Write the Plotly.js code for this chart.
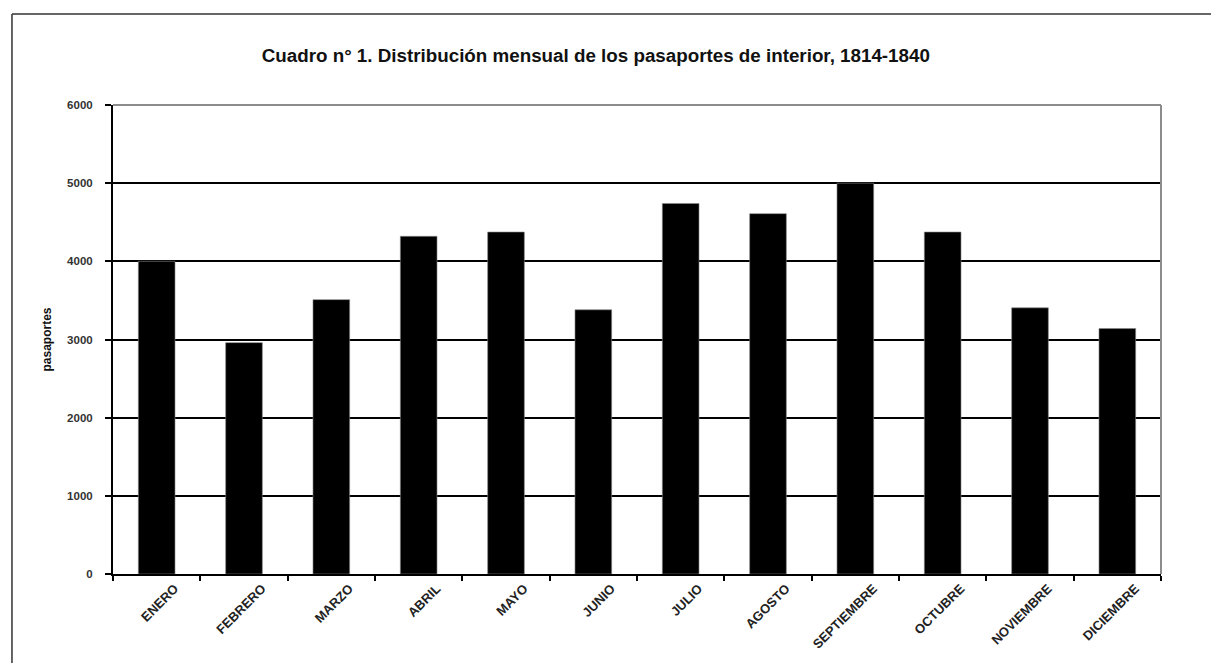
<!DOCTYPE html>
<html>
<head>
<meta charset="utf-8">
<script src="https://cdn.plot.ly/plotly-3.0.1.min.js"></script>
<style>
html, body { margin: 0; padding: 0; background: #ffffff; }
#chart { width: 1211px; height: 663px; }
</style>
</head>
<body>
<div id="chart"></div>
<script>
const months = ["ENERO", "FEBRERO", "MARZO", "ABRIL", "MAYO", "JUNIO", "JULIO", "AGOSTO", "SEPTIEMBRE", "OCTUBRE", "NOVIEMBRE", "DICIEMBRE"];
const pasaportes = [4000, 2960, 3510, 4320, 4375, 3380, 4740, 4610, 5000, 4375, 3405, 3140];
const yTicks = [0, 1000, 2000, 3000, 4000, 5000, 6000];
const chartTitle = "Cuadro n° 1. Distribución mensual de los pasaportes de interior, 1814-1840";
const yTitle = "pasaportes";

const FONT = "Liberation Sans, Arial, sans-serif";

const trace = {
  type: "bar",
  x: months,
  y: pasaportes,
  marker: { color: "#000000", line: { color: "#888888", width: 0.6 } },
  hoverinfo: "x+y"
};

const layout = {
  width: 1211,
  height: 663,
  paper_bgcolor: "#ffffff",
  plot_bgcolor: "#ffffff",
  margin: { l: 113, r: 50, t: 105, b: 89 },
  showlegend: false,
  bargap: 0.58,
  title: {
    text: "<b>" + chartTitle + "</b>",
    font: { family: FONT, size: 18.8, color: "#111111" },
    x: 0.492, xanchor: "center",
    y: 0.917, yanchor: "middle"
  },
  xaxis: {
    type: "category",
    tickangle: -45,
    tickvals: months,
    ticktext: months.map(m => "<b>" + m + "</b>"),
    tickfont: { family: FONT, size: 13, color: "#222222" },
    showline: true, linecolor: "#000000", linewidth: 2,
    ticks: "outside", tickson: "boundaries", ticklen: 5, tickwidth: 2, tickcolor: "#000000",
    ticklabelshift: 18,
    showgrid: false,
    zeroline: false
  },
  yaxis: {
    range: [0, 6000],
    tickvals: yTicks,
    ticktext: yTicks.map(v => "<b>" + v + "</b>"),
    tickfont: { family: FONT, size: 11.5, color: "#333333" },
    showline: true, linecolor: "#000000", linewidth: 2,
    ticks: "outside", ticklen: 6, tickwidth: 2, tickcolor: "#000000",
    ticklabelstandoff: 10,
    showgrid: true, gridcolor: "#000000", gridwidth: 2,
    zeroline: false,
    title: { text: "<b>" + yTitle + "</b>", font: { family: FONT, size: 12, color: "#111111" }, standoff: 13 }
  },
  shapes: [
    { type: "line", xref: "paper", yref: "paper", x0: 0, x1: 1, y0: 1, y1: 1, line: { color: "#8c8c8c", width: 2 }, layer: "above" },
    { type: "line", xref: "paper", yref: "paper", x0: 1, x1: 1, y0: 0, y1: 1, line: { color: "#8c8c8c", width: 2 }, layer: "above" },
    { type: "line", xref: "paper", yref: "paper", x0: -0.0964, x1: 1.2, y0: 1.194, y1: 1.194, line: { color: "#333333", width: 1.5 } },
    { type: "line", xref: "paper", yref: "paper", x0: -0.0964, x1: -0.0964, y0: -0.3, y1: 1.194, line: { color: "#333333", width: 1.5 } }
  ]
};

Plotly.newPlot("chart", [trace], layout, { displayModeBar: false, responsive: false });
</script>
</body>
</html>
